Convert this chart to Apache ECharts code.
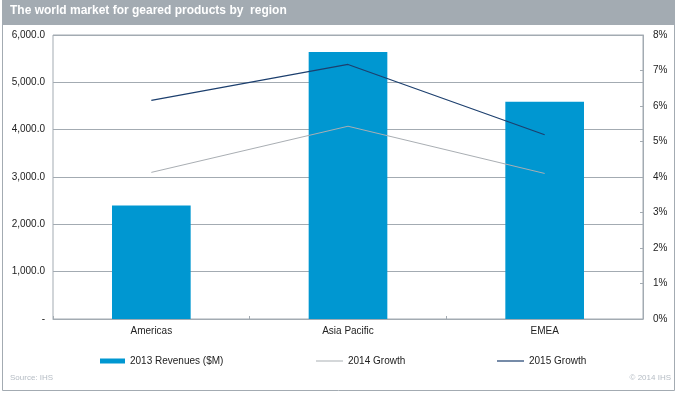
<!DOCTYPE html>
<html>
<head>
<meta charset="utf-8">
<script src="https://cdn.jsdelivr.net/npm/echarts@6/dist/echarts.min.js"></script>
<style>
  html, body { margin: 0; padding: 0; background: #fff; }
  #chart { width: 679px; height: 396px; }
</style>
</head>
<body>
<div id="chart"></div>
<script>
const regions = ["Americas", "Asia Pacific", "EMEA"];
const revenues2013 = [2400, 5640, 4590];
const growth2014 = [4.13, 5.43, 4.1];
const growth2015 = [6.16, 7.17, 5.19];
const leftTicks = { min: 0, max: 6000, step: 1000 };
const rightTicks = { min: 0, max: 8, step: 1 };

const FONT = "'Liberation Sans', Arial, sans-serif";
const frameColor = "#a3abb2";
const textColor = "#222";

function fmtRevenue(v) {
  if (v === 0) return "-";
  return v.toLocaleString("en-US", { minimumFractionDigits: 1, maximumFractionDigits: 1 });
}

const chart = echarts.init(document.getElementById("chart"), null, { renderer: "canvas" });

const legendText = { fontFamily: FONT, fontSize: 10, color: textColor };

chart.setOption({
  animation: false,
  backgroundColor: "#fff",
  graphic: [
    {
      type: "rect",
      shape: { x: 2.5, y: 0.5, width: 672, height: 390 },
      style: { fill: "none", stroke: frameColor, lineWidth: 1 },
      z: -1
    },
    {
      type: "rect",
      shape: { x: 2, y: 0, width: 673, height: 25 },
      style: { fill: frameColor },
      z: -1
    },
    {
      type: "text",
      left: 10,
      top: 374,
      style: { text: "Source: IHS", fill: "#b5bcc4", font: "8px " + FONT }
    },
    {
      type: "text",
      right: 8,
      top: 374,
      style: { text: "\u00a9 2014 IHS", fill: "#b5bcc4", font: "8px " + FONT }
    }
  ],
  title: {
    text: "The world market for geared products by  region",
    left: 10,
    top: 5,
    padding: 0,
    textStyle: { color: "#fff", fontSize: 12, fontWeight: "bold", fontFamily: FONT }
  },
  legend: [
    {
      data: [{ name: "2013 Revenues ($M)", icon: "rect" }],
      left: 100,
      top: 354,
      itemWidth: 25,
      itemHeight: 5,
      padding: [2, 0],
      textStyle: legendText,
      selectedMode: false
    },
    {
      data: [{ name: "2014 Growth", icon: "rect" }],
      left: 316,
      top: 354,
      itemWidth: 27,
      itemHeight: 1,
      padding: [2, 0],
      textStyle: legendText,
      selectedMode: false
    },
    {
      data: [{ name: "2015 Growth", icon: "rect" }],
      left: 497,
      top: 354,
      itemWidth: 27,
      itemHeight: 1.2,
      padding: [2, 0],
      textStyle: legendText,
      selectedMode: false
    }
  ],
  grid: {
    left: 53,
    right: 36,
    top: 35,
    bottom: 77,
    show: true,
    borderColor: frameColor,
    borderWidth: 1
  },
  xAxis: {
    type: "category",
    data: regions,
    axisLine: { lineStyle: { color: frameColor } },
    axisTick: { show: true, inside: true, length: 3, lineStyle: { color: frameColor } },
    axisLabel: { color: textColor, fontSize: 10, fontFamily: FONT, margin: 7 }
  },
  yAxis: [
    {
      type: "value",
      min: leftTicks.min,
      max: leftTicks.max,
      interval: leftTicks.step,
      axisLine: { show: false },
      axisTick: { show: false },
      splitLine: { lineStyle: { color: frameColor, width: 1 } },
      axisLabel: { color: textColor, fontSize: 10, fontFamily: FONT, margin: 8, formatter: fmtRevenue }
    },
    {
      type: "value",
      position: "right",
      min: rightTicks.min,
      max: rightTicks.max,
      interval: rightTicks.step,
      axisLine: { show: true, lineStyle: { color: frameColor } },
      axisTick: { show: true, inside: true, length: 3, lineStyle: { color: frameColor } },
      splitLine: { show: false },
      axisLabel: { color: textColor, fontSize: 10, fontFamily: FONT, margin: 10, formatter: v => v + "%" }
    }
  ],
  series: [
    {
      name: "2013 Revenues ($M)",
      type: "bar",
      data: revenues2013,
      barWidth: "40%",
      itemStyle: { color: "#0097d1" },
      z: 2
    },
    {
      name: "2014 Growth",
      type: "line",
      yAxisIndex: 1,
      data: growth2014,
      symbol: "none",
      lineStyle: { color: "#a9aeb3", width: 1 },
      itemStyle: { color: "#a9aeb3" },
      z: 3
    },
    {
      name: "2015 Growth",
      type: "line",
      yAxisIndex: 1,
      data: growth2015,
      symbol: "none",
      lineStyle: { color: "#1c3f6e", width: 1.2 },
      itemStyle: { color: "#1c3f6e" },
      z: 3
    }
  ]
});
</script>
</body>
</html>
